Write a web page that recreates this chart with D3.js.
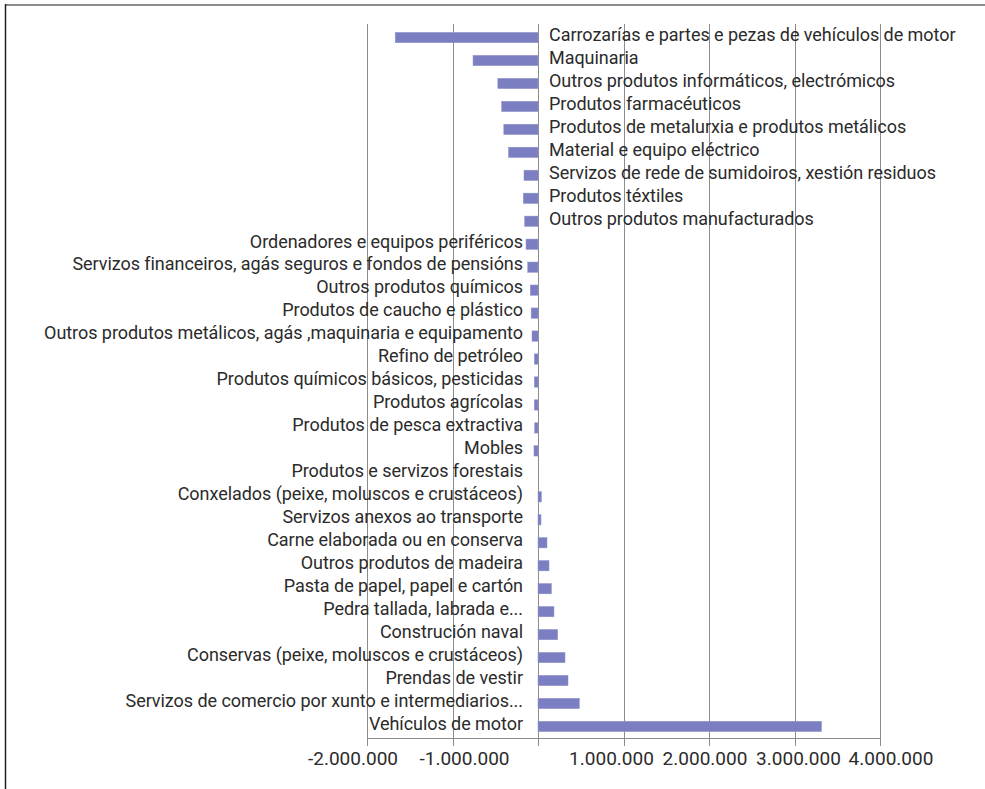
<!DOCTYPE html>
<html>
<meta charset="utf-8">
<style>
body { margin: 0; background: #fff; }
text { font-family: Roboto, "Noto Sans", sans-serif; fill: #2b2b2b; }
.grid line { stroke: #8c8c8c; stroke-width: 1px; }
</style>
<body>
<svg id="chart" width="985" height="789"></svg>
<script src="https://cdn.jsdelivr.net/npm/d3@7"></script>
<script>
// categories, top to bottom
var categories = [
  "Carrozarías e partes e pezas de vehículos de motor",
  "Maquinaria",
  "Outros produtos informáticos, electrómicos",
  "Produtos farmacéuticos",
  "Produtos de metalurxia e produtos metálicos",
  "Material e equipo eléctrico",
  "Servizos de rede de sumidoiros, xestión residuos",
  "Produtos téxtiles",
  "Outros produtos manufacturados",
  "Ordenadores e equipos periféricos",
  "Servizos financeiros, agás seguros e fondos de pensións",
  "Outros produtos químicos",
  "Produtos de caucho e plástico",
  "Outros produtos metálicos, agás ,maquinaria e equipamento",
  "Refino de petróleo",
  "Produtos químicos básicos, pesticidas",
  "Produtos agrícolas",
  "Produtos de pesca extractiva",
  "Mobles",
  "Produtos e servizos forestais",
  "Conxelados (peixe, moluscos e crustáceos)",
  "Servizos anexos ao transporte",
  "Carne elaborada ou en conserva",
  "Outros produtos de madeira",
  "Pasta de papel, papel e cartón",
  "Pedra tallada, labrada e...",
  "Construción naval",
  "Conservas (peixe, moluscos e crustáceos)",
  "Prendas de vestir",
  "Servizos de comercio por xunto e intermediarios...",
  "Vehículos de motor"
];

var values = [
  -1670000, -760000, -470000, -425000, -400000, -345000,
  -164000, -172000, -156000, -140000, -120000, -90000,
  -80000, -70000, -43000, -43000, -43000, -39000,
  -47000, 0, 40000, 35000, 105000, 129000,
  157000, 187000, 230000, 316000, 351000, 484000, 3316000
];

var tickValues = [-2000000, -1000000, 0, 1000000, 2000000, 3000000, 4000000];
var tickLabels = ["-2.000.000", "-1.000.000", "", "1.000.000", "2.000.000", "3.000.000", "4.000.000"];

// horizontal nudges of the tick labels, as laid out in the original
var tickLabelShift = [-14, 12, 0, -12, -4, 4, 11];

var svg = d3.select("#chart");

// frame
svg.append("line").attr("x1", 5).attr("x2", 985).attr("y1", 5).attr("y2", 5)
  .style("stroke", "#8c8c8c").style("stroke-width", 2);
svg.append("line").attr("x1", 5.5).attr("x2", 5.5).attr("y1", 4).attr("y2", 789)
  .style("stroke", "#222").style("stroke-width", 1.5);

var x = d3.scaleLinear().domain([-2000000, 4000000]).range([367, 880]);
var y = d3.scaleBand().domain(categories).range([25.5, 738.5]).paddingInner(0.55).paddingOuter(0.3);

var axisY = 738;

// gridlines
svg.append("g").attr("class", "grid")
  .selectAll("line").data(tickValues).enter().append("line")
  .attr("x1", function(d) { return Math.round(x(d)) + 0.5; })
  .attr("x2", function(d) { return Math.round(x(d)) + 0.5; })
  .attr("y1", 24).attr("y2", axisY + 8);

svg.append("line").attr("x1", x(-2000000)).attr("x2", x(4000000) + 1)
  .attr("y1", axisY + 0.5).attr("y2", axisY + 0.5)
  .style("stroke", "#8c8c8c").style("stroke-width", 1);

// tick labels
svg.append("g").selectAll("text").data(tickValues).enter().append("text")
  .attr("x", function(d, i) { return x(d) + tickLabelShift[i]; })
  .attr("y", axisY + 27)
  .attr("text-anchor", "middle")
  .style("font-size", "19px")
  .text(function(d, i) { return tickLabels[i]; });

// bars
svg.append("g").selectAll("rect").data(values).enter().append("rect")
  .attr("x", function(d) { return x(Math.min(0, d)); })
  .attr("width", function(d) { return Math.abs(x(d) - x(0)); })
  .attr("y", function(d, i) { return y(categories[i]); })
  .attr("height", y.bandwidth())
  .style("fill", "#7b7fc1")
  .style("stroke", "#9296cc")
  .style("stroke-width", 0.5);

// category labels: the large negative ones sit right of the axis
svg.append("g").selectAll("text").data(categories).enter().append("text")
  .attr("x", function(d, i) { return values[i] < -150000 ? x(0) + 11 : x(0) - 15; })
  .attr("y", function(d) { return y(d) + y.bandwidth() / 2 - 3; })
  .attr("dy", "0.35em")
  .attr("text-anchor", function(d, i) { return values[i] < -150000 ? "start" : "end"; })
  .style("font-size", "18px")
  .style("letter-spacing", "-0.05px")
  .text(function(d) { return d; });
</script>
</body>
</html>
